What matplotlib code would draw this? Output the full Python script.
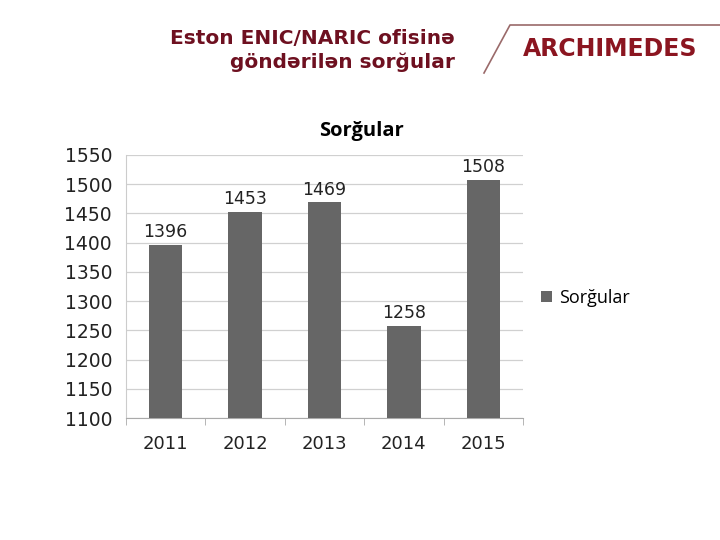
import matplotlib
matplotlib.use("Agg")
import matplotlib.pyplot as plt
from matplotlib.lines import Line2D
from matplotlib.patches import Patch

years = ["2011", "2012", "2013", "2014", "2015"]
values = [1396, 1453, 1469, 1258, 1508]
yticks = [1100, 1150, 1200, 1250, 1300, 1350, 1400, 1450, 1500, 1550]
series_name = "Sorğular"
chart_title = "Sorğular"
header_lines = ["Eston ENIC/NARIC ofisinə", "göndərilən sorğular"]
logo_text = "ARCHIMEDES"

bar_color = "#666666"
dark_red = "#6e1020"

fig = plt.figure(figsize=(7.2, 5.4), dpi=100)
fig.patch.set_facecolor("white")

ax = fig.add_axes([126/720, 1-418/540, (523-126)/720, (418-155)/540])
x = list(range(len(years)))
ax.bar(x, values, width=0.42, color=bar_color, zorder=3)
ax.set_xlim(-0.5, len(years)-0.5)
ax.set_ylim(1100, 1550)
ax.set_yticks(yticks)
ax.set_yticklabels([str(t) for t in yticks], fontsize=13.5, color="#222222")
ax.set_xticks(x)
ax.set_xticklabels(years, fontsize=13, color="#222222")
ax.tick_params(axis="y", length=0, pad=10)
ax.tick_params(axis="x", length=0, pad=12)
ax.set_xticks([i - 0.5 for i in range(len(years)+1)], minor=True)
ax.tick_params(axis="x", which="minor", length=5, color="#aaaaaa", direction="out")
ax.grid(axis="y", color="#d0d0d0", linewidth=0.9, zorder=0)
for s in ["top", "right"]:
    ax.spines[s].set_visible(False)
ax.spines["left"].set_color("#cccccc")
ax.spines["bottom"].set_color("#aaaaaa")

for xi, v in zip(x, values):
    ax.text(xi, v + 6, str(v), ha="center", va="bottom", fontsize=12.5, color="#222222")

fig.text(361/720, 1-131/540, chart_title, ha="center", va="center",
         fontsize=14.5, fontweight="bold", family="Open Sans")

fig.legend(handles=[Patch(facecolor=bar_color, edgecolor="none")], labels=[series_name],
           loc="center left", bbox_to_anchor=(525/720, 1-298/540), frameon=False,
           handlelength=0.6, handleheight=0.6, handletextpad=0.4,
           prop={"family": "Open Sans", "size": 13})

fig.text(455/720, 1-38/540, header_lines[0], ha="right", va="center",
         fontsize=14.5, fontweight="bold", color=dark_red, family="DejaVu Sans")
fig.text(455/720, 1-62/540, header_lines[1], ha="right", va="center",
         fontsize=14.5, fontweight="bold", color=dark_red, family="DejaVu Sans")

fig.text(610/720, 1-49/540, logo_text, ha="center", va="center",
         fontsize=17, fontweight="bold", color="#8b1520", family="DejaVu Sans")
fig.add_artist(Line2D([484/720, 510/720, 720/720], [1-73/540, 1-25/540, 1-25/540],
                      transform=fig.transFigure, color="#9a6a6a", linewidth=1.2))

fig.savefig("out.png", dpi=100, facecolor="white")
